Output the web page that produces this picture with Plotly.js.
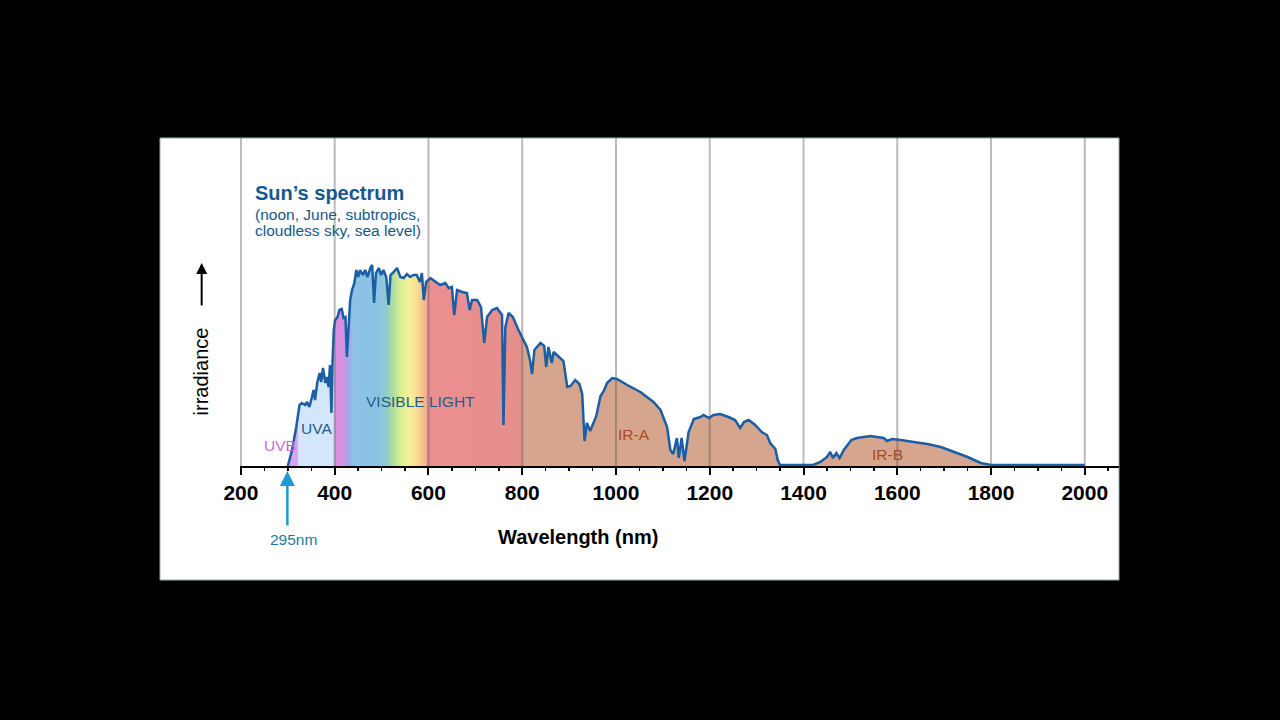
<!DOCTYPE html>
<html>
<head>
<meta charset="utf-8">
<script src="https://cdn.plot.ly/plotly-3.0.1.min.js"></script>
<style>
  html, body { margin: 0; padding: 0; background: #000; }
  #chart { width: 1280px; height: 720px; }
</style>
</head>
<body>
<div id="chart"></div>
<script>
// Wavelength (nm) and relative irradiance (arbitrary units)
const wavelength = [
  300,309,318,325,330,337,341,346,351,355,358,363,368,371,375,380,383,387,390,393,395,398,
  401,406,410,415,419,423,426,430,433,437,442,446,450,454,460,465,470,476,480,484,488,494,499,
  504,510,515,519,526,533,540,547,554,561,568,575,582,586,590,595,604,615,625,636,643,650,655,
  661,672,682,688,693,704,712,719,725,736,746,757,760,764,771,780,792,800,
  810,817,821,826,839,847,851,856,863,867,888,896,903,913,922,928,933,938,945,958,967,974,981,
  992,1002,1024,1052,1080,1095,1109,1116,1122,1130,1134,1140,1146,1150,1155,1166,1180,1187,
  1198,1208,1222,1240,1254,1265,1273,1283,1297,1311,1322,1329,1340,1345,1350,1420,1436,1450,
  1457,1463,1470,1477,1486,1494,1502,1514,1528,1543,1557,1571,1578,1589,1607,1635,1664,1693,
  1721,1750,1778,1800,1900,2000
];
const irradiance = [
  0,16,39,61,63,61,64,59,68,76,66,84,93,84,98,83,89,79,101,53,99,136,
  146,149,156,157,148,149,109,146,166,176,183,196,189,196,191,196,189,198,201,163,193,198,191,
  196,189,161,191,194,198,189,188,192,189,191,191,184,193,166,184,188,184,181,183,178,179,151,
  176,174,173,156,166,166,159,123,149,156,158,151,41,139,153,149,136,128,
  119,105,92,116,123,120,99,119,103,114,105,79,80,86,82,72,25,43,35,50,70,75,83,
  88,87,81,74,64,56,39,16,12,28,8,28,5,20,34,47,49,51,
  48,51,52,49,46,38,44,46,41,34,31,23,17,6,1,1,4,9,
  14,8,13,8,16,21,26,28,29,30,29,28,25,27,26,24,22,19,
  14,9,3,1,1,1
];

// Colour bands under the curve (nm -> colour)
const bandNm = [300, 321, 322, 399, 400, 415, 428, 440, 495, 512, 522, 540, 560, 578, 594, 600, 799, 800];
const bandColors = ['#d9a4ef','#d9a4ef','#d4e6f9','#d4e6f9','#de8ee2','#d890e2','#a9a2e4','#8ec2e6',
  '#8ac4e2','#94cbc8','#a8da9e','#d8ee96','#f6f09a','#f8d892','#f2b28a','#ec8e90','#e4908c','#d5a58d'];

const tickVals = [200, 400, 600, 800, 1000, 1200, 1400, 1600, 1800, 2000];
const tickText = ['200','400','600','800','1000','1200','1400','1600','1800','2000'];

const regionLabels = ['UVB', 'UVA', 'VISIBLE LIGHT', 'IR-A', 'IR-B'];
const regionX = [283, 362, 584, 1039, 1580];
const regionY = [21, 38, 65, 32, 12];
const regionColors = ['#c96ad2', '#1d5e8e', '#1c5f8e', '#b04a1e', '#a84a20'];

const xStart = 198, xEnd = 2073;
const gStart = 200, gStop = 2073;
const colorscale = [[0, bandColors[0]]];
bandNm.forEach((nm, i) => colorscale.push([(nm - gStart) / (gStop - gStart), bandColors[i]]));
colorscale.push([1, bandColors[bandColors.length - 1]]);

const FONT = 'Liberation Sans, Arial, Helvetica, sans-serif';

const trace = {
  type: 'scatter',
  mode: 'lines',
  x: wavelength,
  y: irradiance,
  fill: 'tozeroy',
  fillgradient: { type: 'horizontal', start: gStart, stop: gStop, colorscale: colorscale },
  line: { color: '#1a5ea6', width: 2.5 },
  hoverinfo: 'skip'
};

const shapes = [
  { type: 'rect', xref: 'paper', yref: 'paper', x0: -0.091, x1: 1, y0: -0.3476, y1: 1,
    fillcolor: '#ffffff', line: { color: '#8fb0ba', width: 1 }, layer: 'below' }
];
tickVals.forEach(v => shapes.push({
  type: 'line', xref: 'x', yref: 'paper', x0: v, x1: v, y0: 0, y1: 1,
  line: { color: 'rgba(90,90,90,0.42)', width: 2 }, layer: 'above'
}));

const annotations = [
  { xref: 'paper', yref: 'paper', x: 0.0148, y: 0.832, xanchor: 'left', yanchor: 'middle',
    text: 'Sun’s spectrum', showarrow: false, font: { family: FONT, size: 20, color: '#13598d', weight: 'bold' } },
  { xref: 'paper', yref: 'paper', x: 0.0148, y: 0.768, xanchor: 'left', yanchor: 'middle',
    text: '(noon, June, subtropics,', showarrow: false, font: { family: FONT, size: 15.5, color: '#13598d' } },
  { xref: 'paper', yref: 'paper', x: 0.0148, y: 0.7195, xanchor: 'left', yanchor: 'middle',
    text: 'cloudless sky, sea level)', showarrow: false, font: { family: FONT, size: 15.5, color: '#13598d' } },
  // y-axis label with arrow
  { xref: 'paper', yref: 'paper', x: -0.0445, y: 0.288, xanchor: 'center', yanchor: 'middle', textangle: -90,
    text: 'irradiance', showarrow: false, font: { family: FONT, size: 20, color: '#000' } },
  { xref: 'paper', yref: 'paper', x: -0.0436, y: 0.619, text: '', showarrow: true,
    ax: 0, ay: 44, arrowhead: 2, arrowsize: 1.1, arrowwidth: 2, arrowcolor: '#000', standoff: 0 },
  // x-axis title
  { xref: 'paper', yref: 'paper', x: 0.3845, y: -0.2165, xanchor: 'center', yanchor: 'middle',
    text: 'Wavelength (nm)', showarrow: false, font: { family: FONT, size: 20, color: '#000', weight: 'bold' } },
  // 295nm marker
  { xref: 'x', yref: 'paper', x: 299, y: -0.015, text: '', showarrow: true,
    ax: 0, ay: 56, arrowhead: 2, arrowsize: 1.2, arrowwidth: 2.5, arrowcolor: '#1e9bd0', standoff: 0 },
  { xref: 'x', yref: 'paper', x: 313, y: -0.2256, xanchor: 'center', yanchor: 'middle',
    text: '295nm', showarrow: false, font: { family: FONT, size: 15.5, color: '#1c7ba6' } }
];
regionLabels.forEach((t, i) => annotations.push({
  xref: 'x', yref: 'y', x: regionX[i], y: regionY[i], xanchor: 'center', yanchor: 'middle',
  text: t, showarrow: false, font: { family: FONT, size: 15.5, color: regionColors[i] }
}));

const layout = {
  width: 1280, height: 720,
  margin: { l: 240, r: 161, t: 138, b: 254 },
  paper_bgcolor: '#000000',
  plot_bgcolor: '#ffffff',
  showlegend: false,
  xaxis: {
    range: [xStart, xEnd],
    tickvals: tickVals, ticktext: tickText,
    ticks: 'outside', ticklen: 7, tickwidth: 2, tickcolor: '#000',
    minor: { dtick: 50, tick0: 200, ticks: 'outside', ticklen: 3, tickwidth: 1.5, tickcolor: '#000', showgrid: false },
    showline: true, linecolor: '#000', linewidth: 2,
    showgrid: false, zeroline: false,
    layer: 'below traces',
    tickfont: { family: FONT, size: 21, color: '#000', weight: 'bold' },
    fixedrange: true
  },
  yaxis: {
    range: [0, 328],
    showticklabels: false, ticks: '', showgrid: false, zeroline: false, showline: false,
    fixedrange: true
  },
  shapes: shapes,
  annotations: annotations
};

Plotly.newPlot('chart', [trace], layout, { staticPlot: true, displayModeBar: false });
</script>
</body>
</html>
